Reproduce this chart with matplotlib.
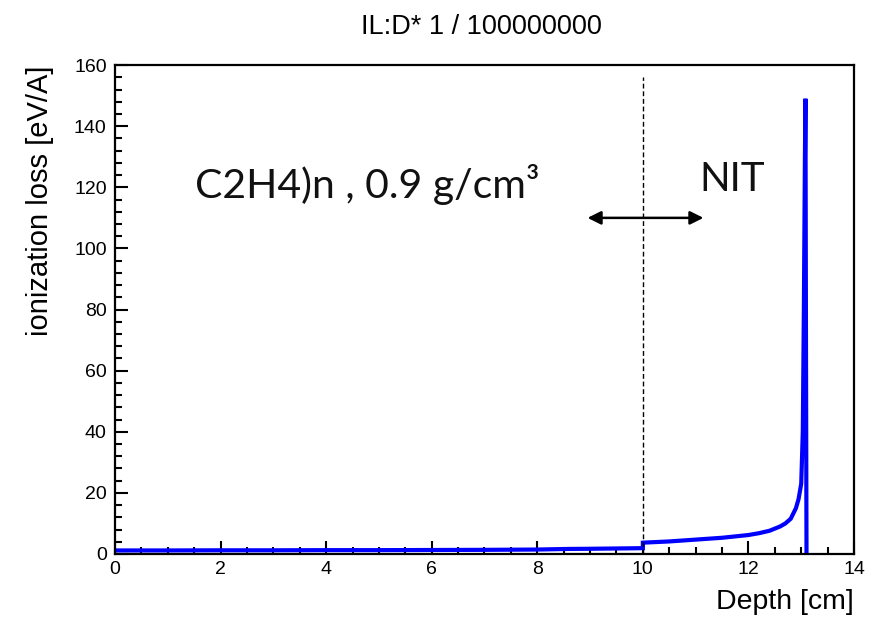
import matplotlib
matplotlib.use("Agg")
import matplotlib.pyplot as plt
from matplotlib.ticker import MultipleLocator

# Data
depth_pe = [0.0, 1.0, 2.0, 3.0, 4.0, 5.0, 6.0, 7.0, 8.0, 8.6, 9.0, 9.5, 10.0]
loss_pe = [1.15, 1.15, 1.2, 1.2, 1.25, 1.25, 1.3, 1.35, 1.45, 1.65, 1.7, 1.8, 1.9]
depth_nit = [10.0, 10.0, 10.5, 11.0, 11.5, 12.0, 12.2, 12.4, 12.5, 12.6, 12.7, 12.8, 12.9,
             12.95, 13.0, 13.03, 13.05, 13.07, 13.08, 13.09, 13.1]
loss_nit = [1.9, 3.7, 4.1, 4.7, 5.3, 6.2, 6.8, 7.6, 8.3, 9.0, 10.0, 11.5, 15.0,
            18.0, 23.0, 40.0, 80.0, 130.0, 149.0, 70.0, 0.0]
title = "IL:D* 1 / 100000000"
xlabel = "Depth [cm]"
ylabel = "ionization loss [eV/A]"
material_label = "C2H4)n , 0.9 g/cm³"
region_label = "NIT"
boundary = 10.0

plt.rcParams['font.family'] = ['Liberation Sans', 'DejaVu Sans']

fig = plt.figure(figsize=(8.71, 6.2), dpi=100)
ax = fig.add_axes([0.132, 0.1065, 0.8485, 0.7885])

ax.plot(depth_pe + depth_nit, loss_pe + loss_nit, color='#0000ff', lw=3.0,
        solid_joinstyle='miter')

ax.set_xlim(0, 14)
ax.set_ylim(0, 160)
ax.xaxis.set_major_locator(MultipleLocator(2))
ax.xaxis.set_minor_locator(MultipleLocator(0.5))
ax.yaxis.set_major_locator(MultipleLocator(20))
ax.yaxis.set_minor_locator(MultipleLocator(4))
ax.tick_params(which='both', direction='in', width=1.5, labelsize=14, colors='black')
ax.tick_params(which='major', length=9.5)
ax.tick_params(which='minor', length=5)
ax.tick_params(axis='x', pad=5)
ax.tick_params(axis='y', pad=6)
for s in ax.spines.values():
    s.set_linewidth(1.6)

ax.plot([boundary, boundary], [0, 156], ls=(0, (3.5, 2)), color='black', lw=1.0)

ax.annotate('', xy=(8.9, 110), xytext=(11.2, 110),
            arrowprops=dict(arrowstyle='<|-|>', color='black', lw=1.8,
                            mutation_scale=20))
ax.text(1.52, 121, material_label, fontsize=29.5, family=['Lato', 'DejaVu Sans'],
        va='center', ha='left', color='#111111')
ax.text(11.08, 122.5, region_label, fontsize=29, family=['Lato', 'DejaVu Sans'],
        va='center', ha='left', color='#111111')

fig.text(0.553, 0.956, title, ha='center', va='center', fontsize=19.5)
ax.set_xlabel(xlabel, fontsize=20.5, loc='right')
ax.xaxis.label.set_va('center')
ax.xaxis.set_label_coords(1.0, -0.098)
ax.set_ylabel(ylabel, fontsize=21, loc='top')
ax.yaxis.label.set_va('center')
ax.yaxis.set_label_coords(-0.1015, 1.0)

fig.savefig('out.png', dpi=100)
